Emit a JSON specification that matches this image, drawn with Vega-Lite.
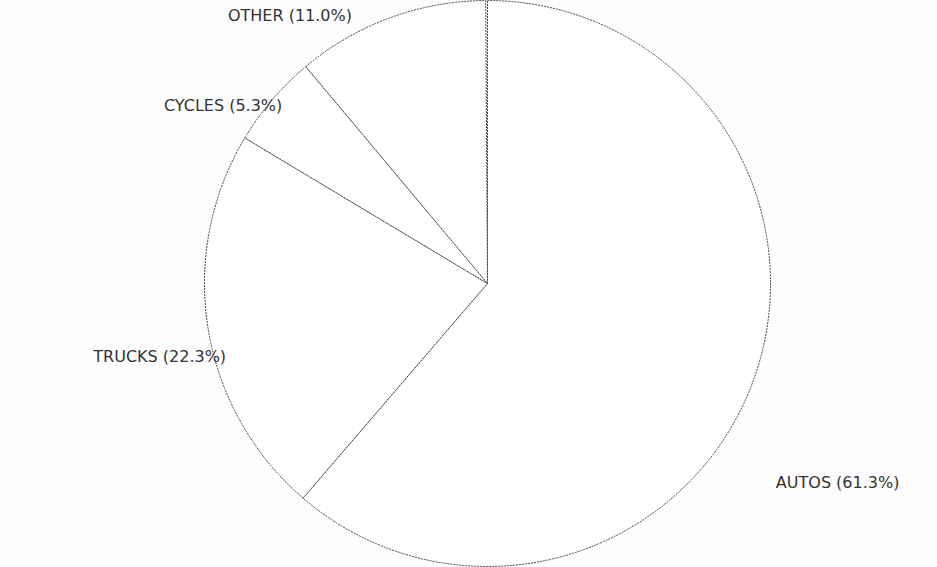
{
  "$schema": "https://vega.github.io/schema/vega-lite/v6.json",
  "width": 899,
  "height": 567,
  "padding": {"left": 38, "right": 0, "top": 0, "bottom": 0},
  "autosize": {"type": "none"},
  "background": "#fdfdfd",
  "config": {"view": {"stroke": null}},
  "data": {
    "values": [
      {"name": "AUTOS", "rank": 0, "share": 61.3, "label": "AUTOS (61.3%)"},
      {"name": "TRUCKS", "rank": 1, "share": 22.3, "label": "TRUCKS (22.3%)"},
      {"name": "CYCLES", "rank": 2, "share": 5.3, "label": "CYCLES (5.3%)"},
      {"name": "OTHER", "rank": 3, "share": 11.0, "label": "OTHER (11.0%)"}
    ]
  },
  "transform": [
    {"stack": "share", "groupby": [], "sort": [{"field": "rank"}], "as": ["s0", "s1"]},
    {"calculate": "(datum.s0 + datum.s1) / 2", "as": "mid"}
  ],
  "layer": [
    {
      "mark": {"type": "arc", "radius": 283, "fill": "#ffffff", "stroke": "#444444", "strokeWidth": 1, "strokeDash": [2, 1]},
      "encoding": {
        "theta": {"field": "s0", "type": "quantitative", "scale": {"domain": [0, 100]}},
        "theta2": {"field": "s1"}
      }
    },
    {
      "transform": [{"filter": "datum.name == 'AUTOS'"}],
      "mark": {"type": "text", "radius": 283, "align": "left", "dx": 23, "dy": 101, "font": "DejaVu Sans", "fontSize": 16, "fill": "#333333"},
      "encoding": {"theta": {"field": "mid", "type": "quantitative", "scale": {"domain": [0, 100]}}, "text": {"field": "label"}}
    },
    {
      "transform": [{"filter": "datum.name == 'TRUCKS'"}],
      "mark": {"type": "text", "radius": 283, "align": "right", "dx": 18, "dy": 28, "font": "DejaVu Sans", "fontSize": 16, "fill": "#333333"},
      "encoding": {"theta": {"field": "mid", "type": "quantitative", "scale": {"domain": [0, 100]}}, "text": {"field": "label"}}
    },
    {
      "transform": [{"filter": "datum.name == 'CYCLES'"}],
      "mark": {"type": "text", "radius": 283, "align": "right", "dx": 10, "dy": 6, "font": "DejaVu Sans", "fontSize": 16, "fill": "#333333"},
      "encoding": {"theta": {"field": "mid", "type": "quantitative", "scale": {"domain": [0, 100]}}, "text": {"field": "label"}}
    },
    {
      "transform": [{"filter": "datum.name == 'OTHER'"}],
      "mark": {"type": "text", "radius": 283, "align": "center", "dx": -100, "dy": -2, "font": "DejaVu Sans", "fontSize": 16, "fill": "#333333"},
      "encoding": {"theta": {"field": "mid", "type": "quantitative", "scale": {"domain": [0, 100]}}, "text": {"field": "label"}}
    }
  ]
}
